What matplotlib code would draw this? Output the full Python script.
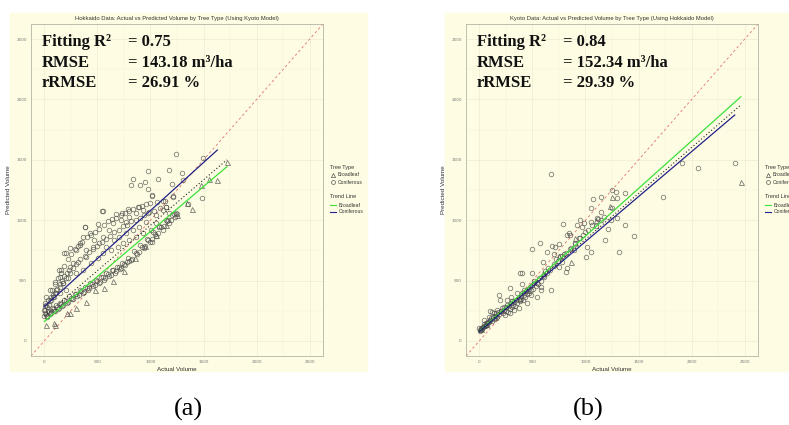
import matplotlib
matplotlib.use("Agg")
import matplotlib.pyplot as plt
from matplotlib.patches import Rectangle
from matplotlib.lines import Line2D

# ---- panel (a): Hokkaido data, Kyoto model ----
a_con_x = [0, 15, 30, 45, 60, 80, 100, 120, 140, 160, 180, 200, 225, 250, 275, 300, 325, 350, 375, 400,
           425, 450, 475, 500, 525, 550, 575, 600, 625, 650, 675, 700, 725, 750, 775, 800, 830, 860, 890, 920,
           950, 980, 1010, 1040, 1070, 1100, 1130, 1160, 1190, 1220, 1250,
           8, 38, 70, 110, 150, 190, 235, 285, 335, 385, 435, 485, 535, 585, 635, 685, 735, 785, 845, 905,
           965, 1025, 1085, 1145, 1205,
           22, 52, 90, 130, 170, 212, 262, 312, 362, 412, 462, 512, 562, 612, 662, 712, 762, 815, 875, 935,
           995, 1055, 1115, 1175, 1235,
           5, 10, 20, 30, 50, 60, 80, 100, 120, 150, 170, 190, 210, 230,
           40, 60, 75, 90, 105, 115, 130, 145, 160, 175, 190, 205, 220, 240, 255, 270, 285, 300, 320, 340,
           360, 380, 400, 420, 440, 460, 480, 500, 520, 540, 560, 580, 600, 620, 640, 660, 680, 700, 720, 740,
           760, 780, 800, 820, 840, 860, 880, 900, 920, 940, 960, 980, 1000, 1030, 1060, 1090, 1120, 1150,
           552, 388, 504, 677, 733, 890, 1015, 1209, 207, 238, 301, 332, 270, 160, 144, 363, 426, 473, 552,
           614, 645, 724, 771, 802, 865, 928, 990, 1053, 1115, 1147, 1178, 395, 457, 520, 583, 661, 708, 771,
           833, 896, 959, 1053, 238, 316, 395, 97, 50, 19, 113, 175, 222, 301, 363, 442, 504, 552, 630, 692,
           739, 802, 865, 928, 1006, 1084, 1162, 1241, 0, 3, 35, 82, 144, 207,
           1240, 1494, 975, 1178, 1294, 836, 1075, 821, 902, 952, 974, 1203, 1306, 1018, 1209, 1488, 1140,
           1350, 545, 382, 793, 1012, 182, 338, 135]
a_con_y = [210, 220, 205, 240, 230, 262, 250, 285, 272, 305, 296, 330, 320, 358, 348, 385, 378, 415, 405, 442,
           436, 470, 462, 498, 490, 528, 520, 556, 548, 585, 575, 612, 605, 640, 652, 665, 682, 728, 736, 780,
           790, 836, 842, 888, 896, 942, 950, 995, 1002, 1048, 1055,
           235, 250, 270, 295, 318, 342, 370, 392, 420, 448, 478, 502, 532, 560, 585, 615, 642, 690, 745, 795,
           845, 900, 950, 1000, 1045,
           200, 225, 245, 265, 290, 315, 345, 370, 400, 425, 455, 482, 508, 540, 565, 592, 625, 668, 720, 772,
           822, 872, 922, 975, 1030,
           260, 290, 300, 280, 330, 360, 380, 400, 430, 470, 500, 540, 560, 590,
           300, 340, 420, 360, 470, 400, 520, 450, 560, 480, 620, 520, 680, 560, 720, 600, 760, 640, 790, 680,
           820, 700, 860, 740, 880, 760, 900, 790, 930, 820, 960, 840, 990, 870, 1010, 900, 1020, 920, 1040, 950,
           1060, 960, 1075, 990, 1090, 1000, 1110, 1020, 1120, 1040, 1130, 1060, 1140, 1080, 1150, 1100, 1160, 1110,
           1079, 941, 969, 1051, 1057, 1107, 1200, 1200, 731, 767, 753, 795, 643, 588, 532, 863, 891, 836, 863,
           919, 974, 1002, 988, 1029, 1057, 1084, 1070, 1043, 1084, 1112, 1057, 753, 781, 809, 781, 836, 863, 891,
           919, 946, 988, 974, 615, 657, 698, 491, 422, 367, 422, 478, 519, 560, 588, 643, 684, 726, 753, 781,
           809, 836, 863, 891, 919, 946, 1002, 1057, 257, 312, 339, 367, 395, 422,
           1545, 1518, 1410, 1415, 1393, 1341, 1341, 1289, 1291, 1316, 1256, 1302, 1329, 1206, 1189, 1187, 1162,
           1137, 1079, 944, 1090, 822, 726, 809, 588]
a_bro_x = [19, 97, 88, 213, 238, 301, 395, 479, 560, 650, 750, 850, 950, 1050, 1150, 1250,
           1388, 1341, 1473, 1551, 1623, 1717]
a_bro_y = [132, 132, 146, 229, 229, 270, 325, 422, 440, 500, 580, 690, 790, 880, 960, 1040,
           1093, 1140, 1291, 1341, 1330, 1479]
a_trend_bro = ([0, 1720], [160, 1443])
a_trend_con = ([0, 1630], [284, 1581])
a_trend_all = ([0, 1720], [205, 1500])
a_stats = ["0.75", "143.18 m³/ha", "26.91 %"]

# ---- panel (b): Kyoto data, Hokkaido model ----
b_con_x = [678, 1911, 2056, 2410, 1284, 1369, 1734, 1072, 1145, 1375, 1460, 1318, 788, 570, 492, 672, 293,
           183, 97, 1214, 1003, 388, 972, 681, 709, 640, 845, 826, 924, 987, 1050, 1113, 1176, 1239, 1296,
           1183, 1012, 1050, 892, 814, 830, 750, 782, 404, 577, 514, 199, 120, 41, 0, 230, 325, 388, 451,
           483, 546, 577, 419, 357, 262, 135, 88, 167, 293, 372,
           10, 20, 30, 40, 50, 60, 70, 80, 100, 110, 130, 150, 160, 180, 200, 210, 230, 250, 260, 280, 300,
           310, 330, 350, 370, 390, 400, 420, 440, 460, 480, 500, 520, 540, 560, 600, 620, 650, 700, 720,
           760, 800, 850, 900, 950, 1000, 1100, 1150, 1250, 1300,
           5, 15, 25, 35, 45, 55, 65, 75, 90, 105, 120, 140, 155, 170, 190, 205, 220, 240, 255, 270, 290,
           305, 320, 340, 360, 380, 395, 410, 430, 450, 470, 490, 510, 530, 555, 580, 610, 640, 670, 700,
           740, 780, 820, 860, 900, 940, 980, 1020, 1060, 1120,
           300, 400, 500, 600, 700, 750, 850, 950, 1050, 1150, 1250]
b_con_y = [1380, 1476, 1429, 1476, 1231, 1228, 1195, 1178, 1070, 960, 869, 734, 966, 809, 759, 422, 441,
           381, 251, 924, 698, 566, 946, 786, 778, 739, 891, 878, 960, 974, 988, 1015, 1029, 1002, 1015,
           836, 781, 740, 753, 574, 601, 615, 657, 566, 450, 478, 339, 243, 174, 105, 284, 257, 339, 312,
           381, 367, 422, 422, 395, 339, 229, 201, 257, 229, 270,
           90, 100, 110, 120, 125, 135, 150, 160, 170, 190, 200, 210, 230, 240, 250, 270, 260, 280, 300, 290, 310,
           330, 320, 340, 350, 370, 400, 380, 410, 430, 450, 460, 500, 480, 520, 540, 580, 600, 640, 680,
           700, 720, 760, 800, 850, 900, 950, 1000, 1100, 1180,
           85, 105, 95, 115, 140, 120, 145, 130, 155, 175, 165, 185, 210, 200, 225, 245, 230, 215, 250, 240, 265,
           280, 300, 290, 310, 330, 350, 340, 365, 385, 400, 420, 430, 455, 470, 500, 530, 560, 590, 620,
           660, 700, 730, 770, 810, 850, 880, 920, 960, 1010,
           360, 470, 560, 650, 720, 800, 880, 1000, 1100, 1190, 1250]
b_bro_x = [2469, 1252, 1230, 861, 20, 60, 150, 450, 600, 750, 900, 1100]
b_bro_y = [1319, 1195, 1118, 657, 95, 140, 200, 420, 560, 700, 850, 1000]
b_trend_bro = ([0, 2463], [80, 2022])
b_trend_con = ([0, 2406], [77, 1871])
b_trend_all = ([0, 2463], [80, 1954])
b_stats = ["0.84", "152.34 m³/ha", "29.39 %"]

ticks = [0, 500, 1000, 1500, 2000, 2500]
stat_names = ["Fitting R²", "RMSE", "rRMSE"]

BG = "#FEFDE3"
W, H = 789, 425
fig = plt.figure(figsize=(W / 100, H / 100), dpi=100)


def px(x, y):
    return x / W, 1 - y / H


def draw_panel(left, title, con_x, con_y, bro_x, bro_y, tr_bro, tr_con, tr_all, stats, bg_left, bg_right):
    fig.add_artist(Rectangle(px(bg_left, 371), (bg_right - bg_left) / W, 358 / H,
                             transform=fig.transFigure, color=BG, zorder=0))
    ax = fig.add_axes([left / W, (H - 356) / H, 292 / W, 332 / H])
    ax.set_facecolor(BG)
    ax.set_xlim(-125, 2625)
    ax.set_ylim(-125, 2625)
    ax.set_xticks(ticks)
    ax.set_yticks(ticks)
    ax.set_xticks([250, 750, 1250, 1750, 2250], minor=True)
    ax.set_yticks([250, 750, 1250, 1750, 2250], minor=True)
    ax.set_xticklabels([str(t) for t in ticks])
    ax.set_yticklabels([str(t) for t in ticks])
    ax.tick_params(which="both", length=0, labelsize=3, labelcolor="#777777", pad=3)
    ax.grid(which="major", color="#EDEDD2", lw=0.5)
    ax.grid(which="minor", color="#F3F3DA", lw=0.3)
    ax.set_axisbelow(True)
    for s in ax.spines.values():
        s.set_color("#B5B5A5")
        s.set_linewidth(0.6)
    ax.set_xlabel("Actual Volume", fontsize=4.5, color="#333333", labelpad=2, family="Liberation Sans")
    ax.set_ylabel("Predicted Volume", fontsize=4.5, color="#333333", labelpad=4, family="Liberation Sans")
    ax.set_title(title, fontsize=4.2, color="#333333", pad=3, family="Liberation Sans")

    ax.plot([-125, 2625], [-125, 2625], ls=(0, (3, 3)), color="#E07070", lw=0.6)
    ax.plot(con_x, con_y, "o", ms=3.3, mfc="none", mec="#4A4A4A", mew=0.55, alpha=0.75, ls="none")
    ax.plot(bro_x, bro_y, "^", ms=3.6, mfc="none", mec="#4A4A4A", mew=0.55, alpha=0.8, ls="none")
    ax.plot(tr_bro[0], tr_bro[1], color="#3BE03B", lw=0.9)
    ax.plot(tr_con[0], tr_con[1], color="#22228A", lw=0.9)
    ax.plot(tr_all[0], tr_all[1], color="#222222", lw=0.8, ls=(0, (1, 2)))

    for i, (name, val) in enumerate(zip(stat_names, stats)):
        y = [0.946, 0.882, 0.822][i]
        ax.text(0.038, y, name, transform=ax.transAxes, fontsize=12, fontweight="bold",
                family="Liberation Serif", va="center", color="#111111")
        ax.text(0.332, y, "= " + val, transform=ax.transAxes, fontsize=12, fontweight="bold",
                family="Liberation Serif", va="center", color="#111111")

    # legend drawn by hand to the right of the plot (clipped at the image edge for panel b)
    lx = left + 299
    f = dict(fontsize=3.6, family="Liberation Sans", va="center", color="#333333")
    fig.text(*px(lx, 167), "Tree Type", **dict(f, fontsize=4))
    fig.add_artist(Line2D([px(lx + 3, 0)[0]], [px(0, 175)[1]], marker="^", ms=3, mfc="none",
                          mec="#555555", mew=0.5, transform=fig.transFigure))
    fig.text(*px(lx + 8, 175), "Broadleaf", **f)
    fig.add_artist(Line2D([px(lx + 3, 0)[0]], [px(0, 182)[1]], marker="o", ms=2.8, mfc="none",
                          mec="#555555", mew=0.5, transform=fig.transFigure))
    fig.text(*px(lx + 8, 182), "Coniferous", **f)
    fig.text(*px(lx, 197), "Trend Line", **dict(f, fontsize=4))
    fig.add_artist(Line2D([px(lx, 0)[0], px(lx + 6, 0)[0]], [px(0, 205)[1]] * 2, color="#3BE03B",
                          lw=0.8, transform=fig.transFigure))
    fig.text(*px(lx + 9, 205), "Broadleaf", **f)
    fig.add_artist(Line2D([px(lx, 0)[0], px(lx + 6, 0)[0]], [px(0, 212)[1]] * 2, color="#22228A",
                          lw=0.8, transform=fig.transFigure))
    fig.text(*px(lx + 9, 212), "Coniferous", **f)
    return ax


draw_panel(31, "Hokkaido Data: Actual vs Predicted Volume by Tree Type (Using Kyoto Model)",
           a_con_x, a_con_y, a_bro_x, a_bro_y, a_trend_bro, a_trend_con, a_trend_all, a_stats, 10, 367)
draw_panel(466, "Kyoto Data: Actual vs Predicted Volume by Tree Type (Using Hokkaido Model)",
           b_con_x, b_con_y, b_bro_x, b_bro_y, b_trend_bro, b_trend_con, b_trend_all, b_stats, 445, 789)

fig.text(*px(188, 409), "(a)", fontsize=19, family="Liberation Serif", ha="center", va="center")
fig.text(*px(588, 409), "(b)", fontsize=19, family="Liberation Serif", ha="center", va="center")

fig.savefig("out.png", dpi=100)
